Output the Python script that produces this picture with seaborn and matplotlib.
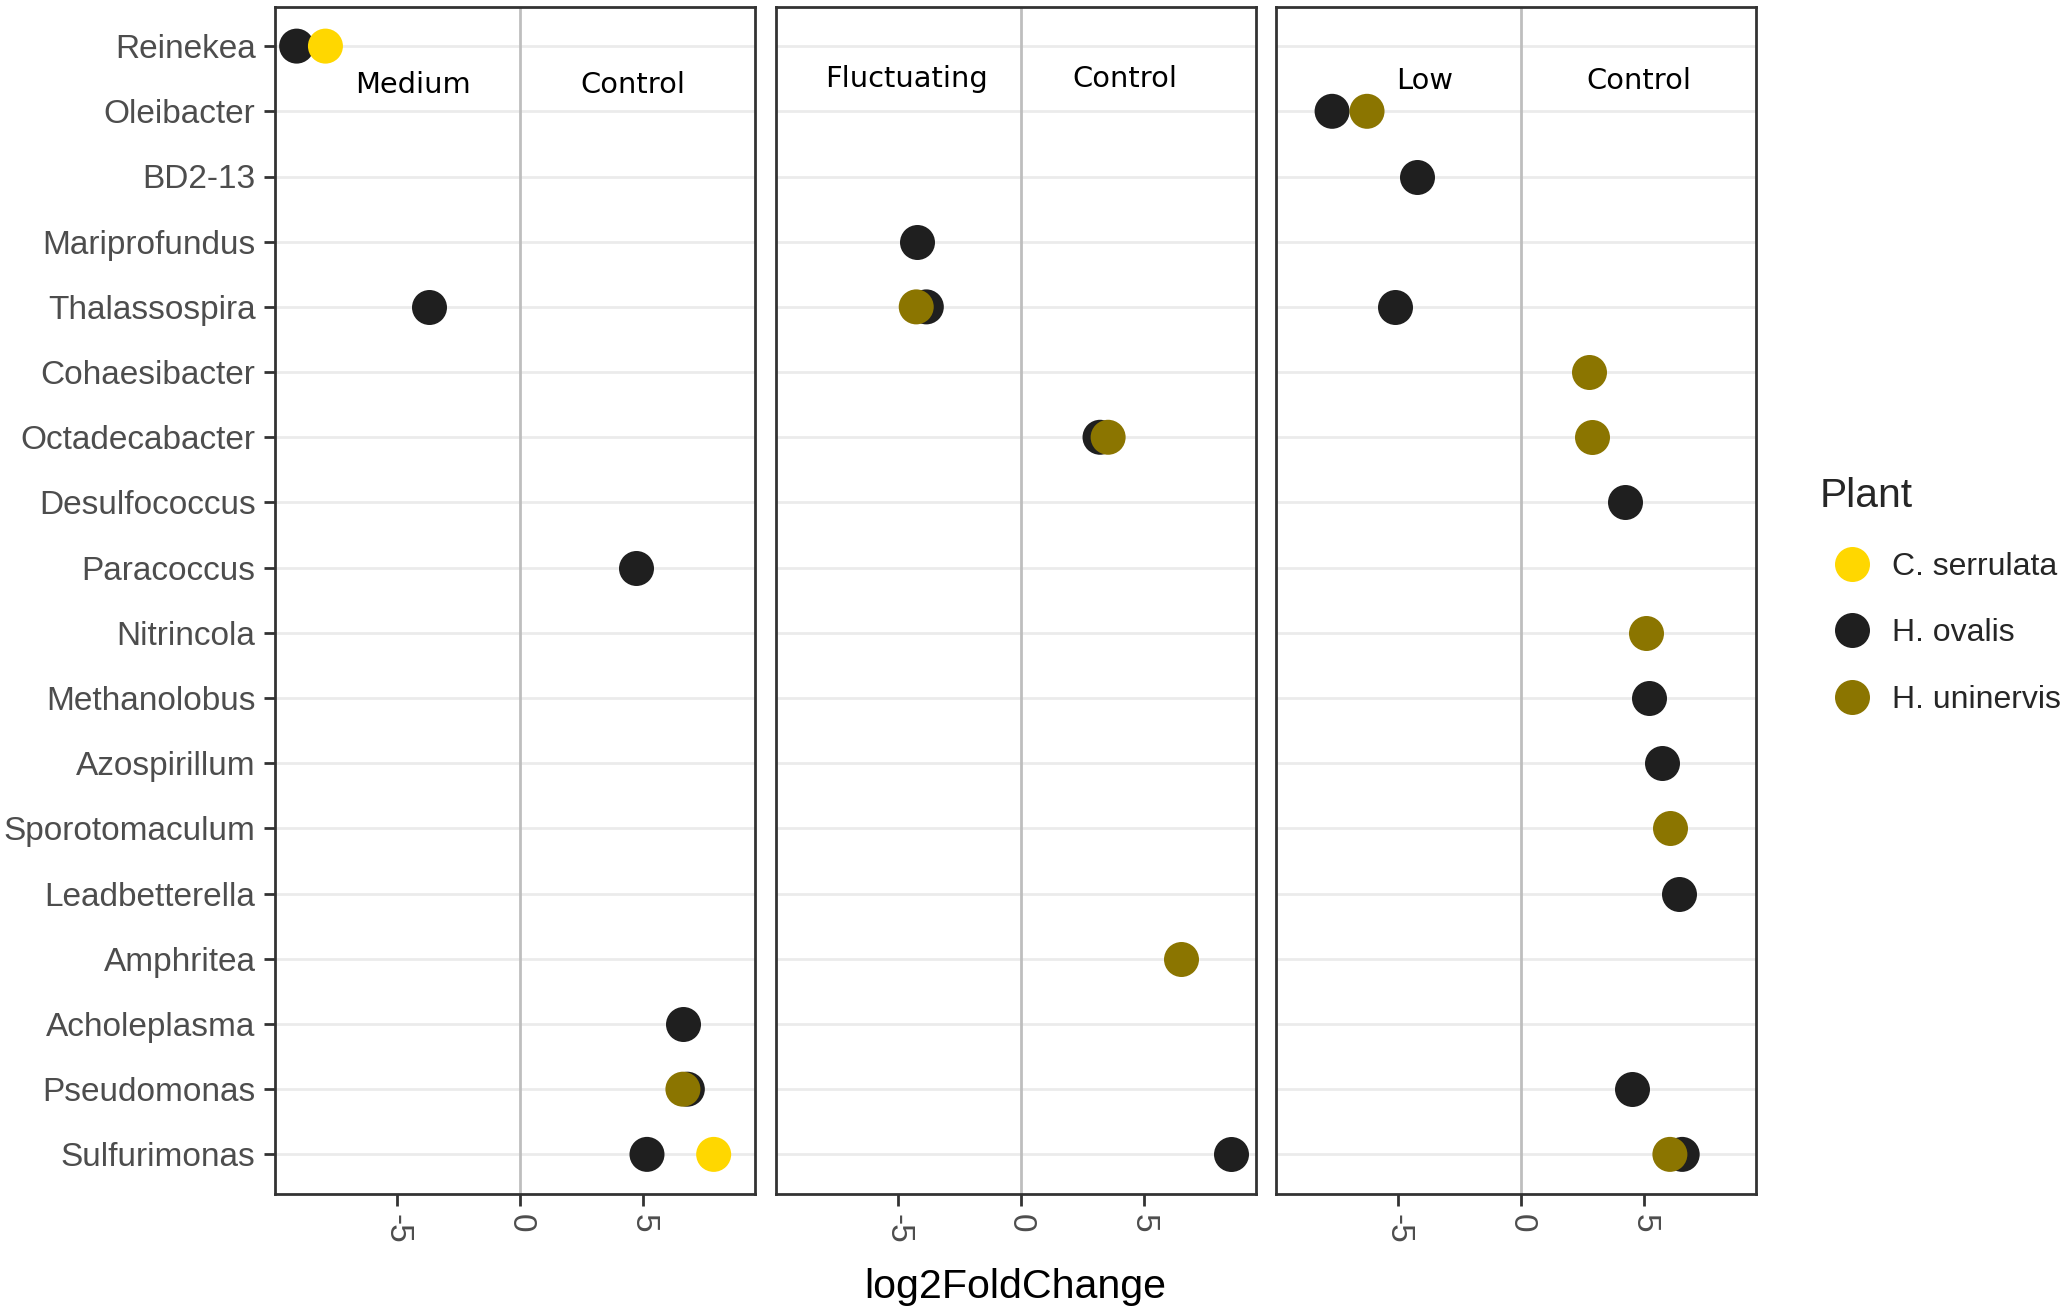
import matplotlib
matplotlib.use("Agg")
import matplotlib.pyplot as plt
from matplotlib.lines import Line2D
import seaborn as sns
import pandas as pd

genera = ["Reinekea", "Oleibacter", "BD2-13", "Mariprofundus", "Thalassospira",
          "Cohaesibacter", "Octadecabacter", "Desulfococcus", "Paracoccus", "Nitrincola",
          "Methanolobus", "Azospirillum", "Sporotomaculum", "Leadbetterella", "Amphritea",
          "Acholeplasma", "Pseudomonas", "Sulfurimonas"]
plants = ["C. serrulata", "H. ovalis", "H. uninervis"]
plant_colors = ["#FFD700", "#1F1F1F", "#8B7500"]

# Medium vs Control (H. ovalis rows first so the others sit on top)
medium_genus = ["Reinekea", "Thalassospira", "Paracoccus", "Acholeplasma", "Pseudomonas",
                "Sulfurimonas", "Reinekea", "Sulfurimonas", "Pseudomonas"]
medium_plant = ["H. ovalis", "H. ovalis", "H. ovalis", "H. ovalis", "H. ovalis",
                "H. ovalis", "C. serrulata", "C. serrulata", "H. uninervis"]
medium_lfc = [-9.08, -3.69, 4.70, 6.63, 6.80, 5.16, -7.91, 7.87, 6.62]

# Fluctuating vs Control
fluct_genus = ["Mariprofundus", "Thalassospira", "Octadecabacter", "Sulfurimonas",
               "Thalassospira", "Octadecabacter", "Amphritea"]
fluct_plant = ["H. ovalis", "H. ovalis", "H. ovalis", "H. ovalis",
               "H. uninervis", "H. uninervis", "H. uninervis"]
fluct_lfc = [-4.20, -3.83, 3.23, 8.54, -4.24, 3.56, 6.52]

# Low vs Control
low_genus = ["Oleibacter", "BD2-13", "Thalassospira", "Desulfococcus", "Methanolobus",
             "Azospirillum", "Leadbetterella", "Pseudomonas", "Sulfurimonas",
             "Oleibacter", "Cohaesibacter", "Octadecabacter", "Nitrincola",
             "Sporotomaculum", "Sulfurimonas"]
low_plant = ["H. ovalis"] * 9 + ["H. uninervis"] * 6
low_lfc = [-7.68, -4.21, -5.12, 4.23, 5.21, 5.71, 6.42, 4.53, 6.55,
           -6.26, 2.78, 2.89, 5.07, 6.05, 6.05]

panel_labels = [("Medium", "Control"), ("Fluctuating", "Control"), ("Low", "Control")]
label_x = [(-4.35, 4.57), (-4.65, 4.26), (-3.9, 4.8)]
label_y = [0.59, 0.5, 0.54]

sns.set_theme(style="white")
plt.rcParams["font.family"] = ["Liberation Sans", "DejaVu Sans"]

W, H, DPI = 2067, 1314, 200
fig = plt.figure(figsize=(W / DPI, H / DPI), dpi=DPI)

frames = [
    pd.DataFrame({"genus": medium_genus, "plant": medium_plant, "lfc": medium_lfc}),
    pd.DataFrame({"genus": fluct_genus, "plant": fluct_plant, "lfc": fluct_lfc}),
    pd.DataFrame({"genus": low_genus, "plant": low_plant, "lfc": low_lfc}),
]

panel_left = [275, 775.5, 1276]
panel_w = 480
top_px, bot_px = 7, 1193.5
border = "#333333"

for i, df in enumerate(frames):
    ax = fig.add_axes([panel_left[i] / W, (H - bot_px) / H, panel_w / W, (bot_px - top_px) / H])
    ax.axvline(0, color="#BEBEBE", lw=1.0, zorder=1)
    sns.stripplot(data=df, x="lfc", y="genus", hue="plant", order=genera,
                  hue_order=plants, palette=plant_colors, jitter=False, size=12.6,
                  linewidth=0, orient="h", legend=False, ax=ax, zorder=3)
    ax.set_xlim(-9.96, 9.55)
    ax.set_ylim(len(genera) - 0.4, -0.6)
    ax.set_axisbelow(True)
    ax.yaxis.grid(True, color="#EBEBEB", lw=1.0)
    ax.xaxis.grid(False)
    ax.set_xlabel("")
    ax.set_ylabel("")
    ax.set_xticks([-5, 0, 5])
    ax.set_xticklabels(["-5", "0", "5"])
    ax.tick_params(axis="x", bottom=True, length=4.2, width=1, color=border,
                   labelcolor="#4D4D4D", labelsize=12, pad=3, labelrotation=-90)
    if i == 0:
        ax.tick_params(axis="y", left=True, length=4, width=1, color=border,
                       labelcolor="#4D4D4D", labelsize=12, pad=3)
    else:
        ax.tick_params(axis="y", left=False, labelleft=False)
    for s in ax.spines.values():
        s.set_visible(True)
        s.set_color(border)
        s.set_linewidth(1.0)
    for lab, xx in zip(panel_labels[i], label_x[i]):
        ax.text(xx, label_y[i], lab, ha="center", va="center", fontsize=10.4,
                family="DejaVu Sans", color="black", zorder=4)

fig.text(1015 / W, 1 - 1287 / H, "log2FoldChange", ha="center", va="center",
         fontsize=14.8, color="black")

handles = [Line2D([], [], marker="o", ls="", markersize=12.6, markerfacecolor=c,
                  markeredgewidth=0) for c in plant_colors]
leg = fig.legend(handles, plants, title="Plant", loc="upper left",
                 bbox_to_anchor=(1820 / W, 1 - 477 / H), frameon=False,
                 borderaxespad=0, borderpad=0, fontsize=11.5, title_fontsize=14.7,
                 handlelength=2.0, handletextpad=0.25, labelspacing=1.15,
                 alignment="left")

fig.savefig("out.png", dpi=DPI)
